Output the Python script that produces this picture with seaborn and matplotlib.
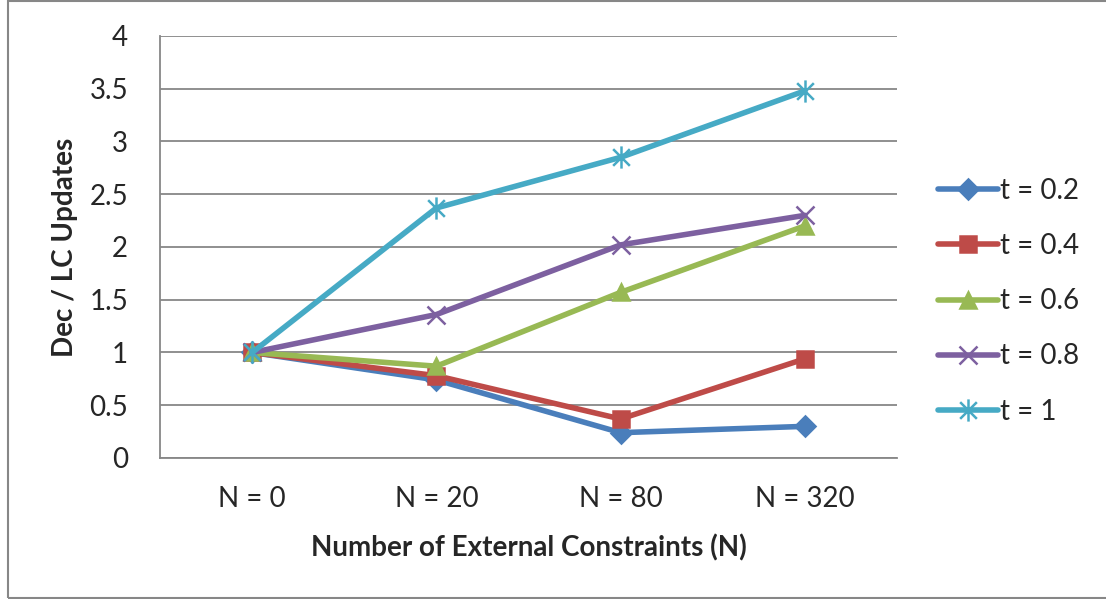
import matplotlib
matplotlib.use("Agg")
import matplotlib.pyplot as plt
from matplotlib.path import Path
from matplotlib.patches import Rectangle
from matplotlib.ticker import FuncFormatter, FixedLocator
import numpy as np
import pandas as pd
import seaborn as sns

# Categories and series values
categories = ["N = 0", "N = 20", "N = 80", "N = 320"]
series_names = ["t = 0.2", "t = 0.4", "t = 0.6", "t = 0.8", "t = 1"]
t_02 = [1.0, 0.74, 0.24, 0.30]
t_04 = [1.0, 0.78, 0.37, 0.94]
t_06 = [1.0, 0.87, 1.57, 2.20]
t_08 = [1.0, 1.36, 2.02, 2.30]
t_10 = [1.0, 2.37, 2.85, 3.48]
y_ticks = [0, 0.5, 1, 1.5, 2, 2.5, 3, 3.5, 4]

colors = ["#4A7EBB", "#BE4B48", "#98B954", "#7D60A0", "#46AAC5"]

# Asterisk marker: vertical bar plus an X
star_path = Path(
    [(0, -1), (0, 1), (-0.75, -0.75), (0.75, 0.75), (-0.75, 0.75), (0.75, -0.75)],
    [Path.MOVETO, Path.LINETO, Path.MOVETO, Path.LINETO, Path.MOVETO, Path.LINETO],
)
markers = ["D", "s", "^", "x", star_path]
marker_sizes = [10, 11, 12, 13, 16]

rows = []
for name, vals in zip(series_names, [t_02, t_04, t_06, t_08, t_10]):
    for i, (cat, v) in enumerate(zip(categories, vals)):
        rows.append({"pos": i, "category": cat, "series": name, "value": v})
df = pd.DataFrame(rows)

sns.set_style("white")
plt.rcParams["font.family"] = ["Lato", "DejaVu Sans"]

fs = 20
fig = plt.figure(figsize=(11.06, 5.99), dpi=100)
ax = fig.add_axes([0.1447, 0.2354, 0.8110 - 0.1447, 0.9399 - 0.2354])

sns.lineplot(
    data=df, x="pos", y="value", hue="series",
    hue_order=series_names, palette=colors, marker="o",
    linewidth=4, ax=ax, legend=False, sort=False,
)

lines = ax.lines[:5]
for ln, c, m, ms in zip(lines, colors, markers, marker_sizes):
    ln.set_marker(m)
    ln.set_markersize(ms)
    ln.set_markerfacecolor(c)
    ln.set_markeredgecolor(c)
    ln.set_markeredgewidth(1.8)
    ln.set_solid_capstyle("round")

grid_c = "#878787"
ax.set_xlim(-0.5, 3.5)
ax.set_ylim(0, 4)
ax.set_yticks(y_ticks)
ax.yaxis.set_major_formatter(FuncFormatter(lambda v, p: f"{v:g}"))
ax.set_xticks(range(len(categories)))
ax.set_xticklabels(categories)
ax.xaxis.set_minor_locator(FixedLocator(np.arange(-0.5, 3.6, 1.0)))
ax.tick_params(axis="x", which="major", length=0, pad=20, labelsize=fs)
ax.tick_params(axis="x", which="minor", length=7, width=1.3, color=grid_c, direction="out")
ax.tick_params(axis="y", which="major", length=7, width=1.3, color=grid_c,
               direction="out", labelsize=fs, pad=16)
ax.grid(axis="y", color=grid_c, linewidth=1.3)
ax.set_axisbelow(True)
for s in ["top", "right"]:
    ax.spines[s].set_visible(False)
for s in ["left", "bottom"]:
    ax.spines[s].set_color(grid_c)
    ax.spines[s].set_linewidth(1.3)

ax.set_xlabel("Number of External Constraints (N)", fontsize=fs, fontweight="bold", labelpad=16)
ax.set_ylabel("Dec / LC Updates", fontsize=fs, fontweight="bold", labelpad=8)

leg = ax.legend(
    handles=lines, labels=series_names, loc="center left",
    bbox_to_anchor=(0.848, 0.497), bbox_transform=fig.transFigure,
    frameon=False, fontsize=fs, handlelength=2.15, handletextpad=0.1,
    labelspacing=1.05, numpoints=1, borderpad=0, borderaxespad=0,
)

# Outer frame around the chart area (right edge runs past the canvas)
fig.patches.append(Rectangle((0.0068, 0.0017), 1.0, 0.9958, transform=fig.transFigure,
                             fill=False, edgecolor="#878787", linewidth=1.5))

fig.savefig("out.png", dpi=100)
